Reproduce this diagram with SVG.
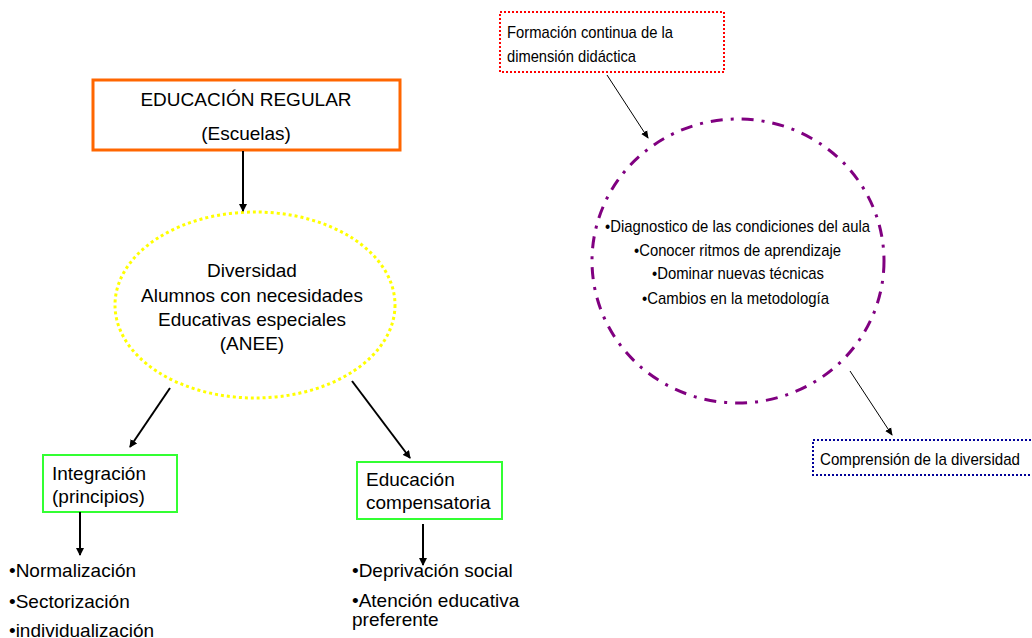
<svg xmlns="http://www.w3.org/2000/svg" width="1032" height="638" viewBox="0 0 1032 638">
<defs>
<marker id="ah" markerWidth="8" markerHeight="8" refX="7" refY="4" orient="auto" markerUnits="userSpaceOnUse">
<path d="M0,0 L8,4 L0,8 Z" fill="#000"/>
</marker>
<marker id="ahs" markerWidth="8" markerHeight="8" refX="7" refY="4" orient="auto" markerUnits="userSpaceOnUse">
<path d="M0,0.5 L8,4 L0,7.5 Z" fill="#000"/>
</marker>
</defs>
<style>
text{font-family:"Liberation Sans",Arial,sans-serif;fill:#000}
.t19{font-size:19px}
.n{font-size:17px}
.thick{stroke:#000;stroke-width:2;fill:none}
.thin{stroke:#000;stroke-width:1;fill:none}
</style>
<rect width="1032" height="638" fill="#fff"/>

<g id="educacion-regular">
<rect x="93" y="80" width="307" height="70" fill="#fff" stroke="#FF6600" stroke-width="3"/>
<text class="t19" x="246" y="106" text-anchor="middle">EDUCACIÓN REGULAR</text>
<text class="t19" x="246" y="140" text-anchor="middle">(Escuelas)</text>
</g>

<g id="diversidad">
<ellipse cx="255" cy="305" rx="140" ry="93" fill="none" stroke="#FFFF00" stroke-width="3" stroke-dasharray="3 3"/>
<text class="t19" x="252" y="277" text-anchor="middle">Diversidad</text>
<text class="t19" x="252" y="302" text-anchor="middle">Alumnos con necesidades</text>
<text class="t19" x="252" y="326" text-anchor="middle">Educativas especiales</text>
<text class="t19" x="252" y="350" text-anchor="middle">(ANEE)</text>
</g>

<g id="integracion">
<rect x="43" y="455" width="134" height="57" fill="#fff" stroke="#33FF33" stroke-width="2"/>
<text class="t19" x="52" y="480">Integración</text>
<text class="t19" x="52" y="503">(principios)</text>
</g>

<g id="compensatoria">
<rect x="357" y="462" width="145" height="57" fill="#fff" stroke="#33FF33" stroke-width="2"/>
<text class="t19" x="366" y="486">Educación</text>
<text class="t19" x="366" y="509">compensatoria</text>
</g>

<g id="lista-integracion">
<text class="t19" x="9" y="577">•Normalización</text>
<text class="t19" x="9" y="608">•Sectorización</text>
<text class="t19" x="9" y="637">•individualización</text>
</g>

<g id="lista-compensatoria">
<text class="t19" x="352" y="577">•Deprivación social</text>
<text class="t19" x="352" y="607">•Atención educativa</text>
<text class="t19" x="352" y="626">preferente</text>
</g>

<g id="formacion">
<rect x="500" y="12" width="224" height="60" fill="#fff" stroke="#FF0000" stroke-width="2" stroke-dasharray="2 2"/>
<text class="n" x="507" y="38" textLength="166" lengthAdjust="spacingAndGlyphs">Formación continua de la</text>
<text class="n" x="507" y="62" textLength="129" lengthAdjust="spacingAndGlyphs">dimensión didáctica</text>
</g>

<g id="circulo">
<ellipse cx="738" cy="261" rx="146" ry="142" fill="none" stroke="#800080" stroke-width="3" stroke-dasharray="12 8 3 8"/>
<text class="n" x="605" y="232" textLength="265" lengthAdjust="spacingAndGlyphs">•Diagnostico de las condiciones del aula</text>
<text class="n" x="634" y="256" textLength="207" lengthAdjust="spacingAndGlyphs">•Conocer ritmos de aprendizaje</text>
<text class="n" x="652" y="279" textLength="172" lengthAdjust="spacingAndGlyphs">•Dominar nuevas técnicas</text>
<text class="n" x="642" y="304" textLength="187" lengthAdjust="spacingAndGlyphs">•Cambios en la metodología</text>
</g>

<g id="comprension">
<rect x="813" y="440" width="225" height="35" fill="#fff" stroke="#000099" stroke-width="2" stroke-dasharray="2 2"/>
<text class="n" x="820" y="465" textLength="200" lengthAdjust="spacingAndGlyphs">Comprensión  de la diversidad</text>
</g>

<g id="connectors">
<line class="thick" x1="243" y1="151" x2="243" y2="211" marker-end="url(#ah)"/>
<line class="thick" x1="170" y1="388" x2="130" y2="447" marker-end="url(#ah)"/>
<line class="thick" x1="352" y1="381" x2="410" y2="458" marker-end="url(#ah)"/>
<line class="thick" x1="80" y1="512" x2="80" y2="555" marker-end="url(#ah)"/>
<line class="thick" x1="423" y1="524" x2="423" y2="565" marker-end="url(#ah)"/>
<line class="thin" x1="607" y1="75" x2="648" y2="138" marker-end="url(#ahs)"/>
<line class="thin" x1="850" y1="371" x2="892" y2="435" marker-end="url(#ahs)"/>
</g>
</svg>
